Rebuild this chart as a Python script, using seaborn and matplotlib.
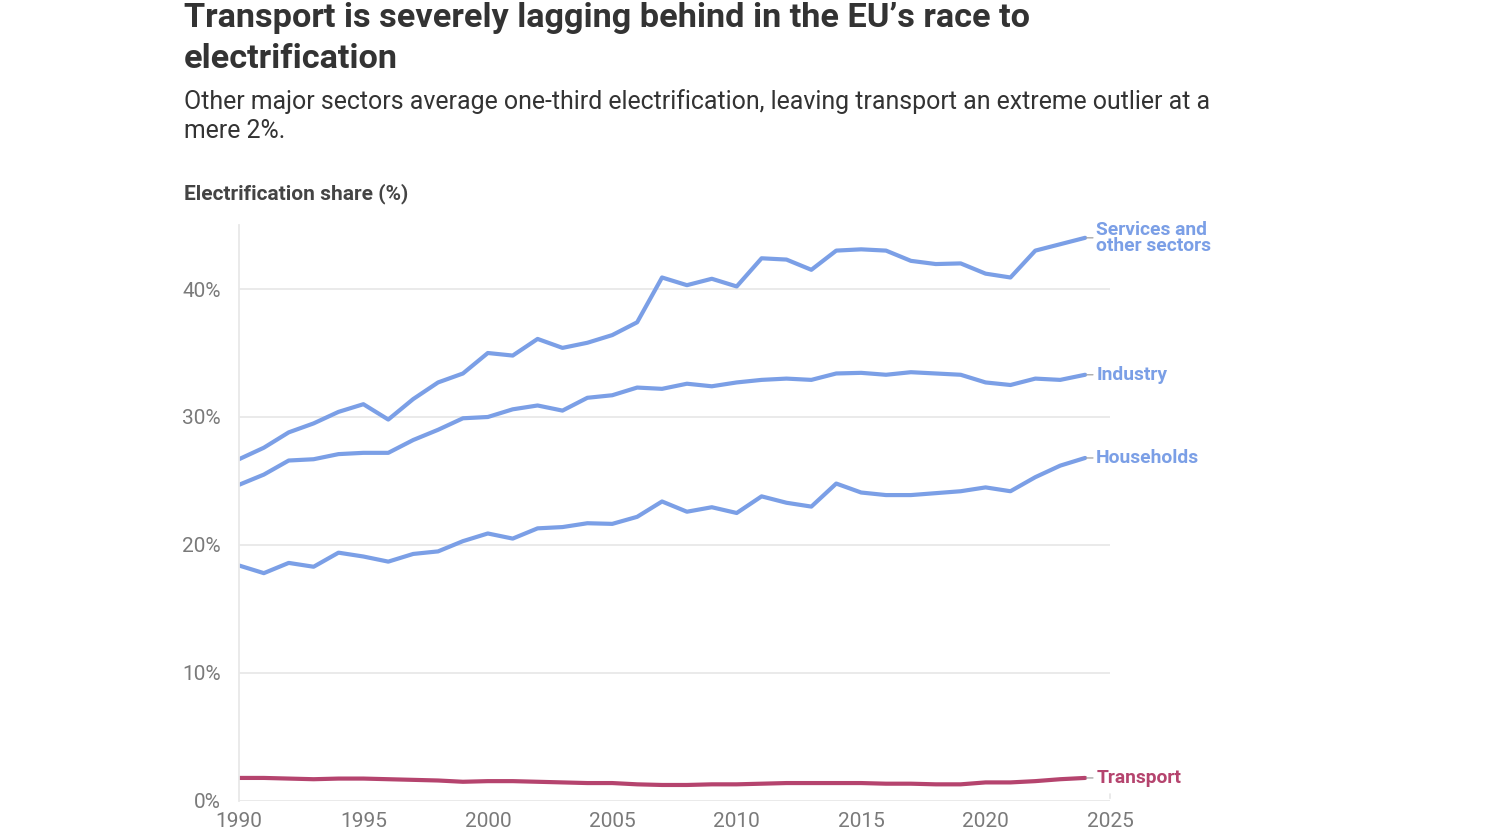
import matplotlib
matplotlib.use("Agg")
import matplotlib.pyplot as plt
import pandas as pd
import seaborn as sns

YEARS = list(range(1990, 2025))

SERVICES = [26.7, 27.6, 28.8, 29.5, 30.4, 31.0, 29.8, 31.4, 32.7, 33.4,
            35.0, 34.8, 36.1, 35.4, 35.8, 36.4, 37.4, 40.9, 40.3, 40.8,
            40.2, 42.4, 42.3, 41.5, 43.0, 43.1, 43.0, 42.2, 41.95, 42.0,
            41.2, 40.9, 43.0, 43.5, 44.0]
INDUSTRY = [24.7, 25.5, 26.6, 26.7, 27.1, 27.2, 27.2, 28.2, 29.0, 29.9,
            30.0, 30.6, 30.9, 30.5, 31.5, 31.7, 32.3, 32.2, 32.6, 32.4,
            32.7, 32.9, 33.0, 32.9, 33.4, 33.45, 33.3, 33.5, 33.4, 33.3,
            32.7, 32.5, 33.0, 32.9, 33.3]
HOUSEHOLDS = [18.4, 17.8, 18.6, 18.3, 19.4, 19.1, 18.7, 19.3, 19.5, 20.3,
              20.9, 20.5, 21.3, 21.4, 21.7, 21.65, 22.2, 23.4, 22.6, 22.95,
              22.5, 23.8, 23.3, 23.0, 24.8, 24.1, 23.9, 23.9, 24.05, 24.2,
              24.5, 24.2, 25.3, 26.2, 26.8]
TRANSPORT = [1.8, 1.8, 1.75, 1.7, 1.75, 1.75, 1.7, 1.65, 1.6, 1.5,
             1.55, 1.55, 1.5, 1.45, 1.4, 1.4, 1.3, 1.25, 1.25, 1.3,
             1.3, 1.35, 1.4, 1.4, 1.4, 1.4, 1.35, 1.35, 1.3, 1.3,
             1.45, 1.45, 1.55, 1.7, 1.8]

SERIES = {
    "Services and\nother sectors": SERVICES,
    "Industry": INDUSTRY,
    "Households": HOUSEHOLDS,
    "Transport": TRANSPORT,
}
BLUE = "#7b9fe6"
RED = "#b5446e"
COLORS = {name: (RED if name == "Transport" else BLUE) for name in SERIES}

X_TICKS = [1990, 1995, 2000, 2005, 2010, 2015, 2020, 2025]
Y_TICKS = [0, 10, 20, 30, 40]

TITLE = "Transport is severely lagging behind in the EU\u2019s race to\nelectrification"
SUBTITLE = ("Other major sectors average one-third electrification, leaving transport an extreme outlier at a\n"
            "mere 2%.")
AXIS_TITLE = "Electrification share (%)"

sns.set_style("white")
plt.rcParams["font.family"] = ["Roboto", "DejaVu Sans"]

df = pd.DataFrame(
    [(y, name, v) for name, vals in SERIES.items() for y, v in zip(YEARS, vals)],
    columns=["year", "sector", "share"],
)

fig = plt.figure(figsize=(15, 8.34), dpi=100)
ax = fig.add_axes([0.1593, 0.0396, 0.5807, 0.6906])

sns.lineplot(data=df, x="year", y="share", hue="sector", palette=COLORS,
             linewidth=3, ax=ax, legend=False, solid_capstyle="round",
             solid_joinstyle="round")

ax.set_xlim(1990, 2025)
ax.set_ylim(0, 45)
ax.set_xticks(X_TICKS)
ax.set_xticklabels([str(t) for t in X_TICKS])
ax.set_yticks(Y_TICKS)
ax.set_yticklabels([f"{t}%" for t in Y_TICKS])
ax.set_xlabel("")
ax.set_ylabel("")

grid_c = "#e8e8e8"
for t in Y_TICKS:
    ax.axhline(t, color=grid_c, lw=1.3, zorder=0)
for side in ["top", "right", "bottom"]:
    ax.spines[side].set_visible(False)
ax.spines["left"].set_color(grid_c)
ax.spines["left"].set_linewidth(1.3)

ax.tick_params(axis="y", length=9, color=grid_c, width=1.3, pad=4,
               labelsize=15, labelcolor="#7a7a7a")
ax.tick_params(axis="x", length=0, pad=8, labelsize=15, labelcolor="#7a7a7a")

# small end tick at 2025
ax.annotate("", xy=(2025, 0), xytext=(0, 7), textcoords="offset points",
            arrowprops=dict(arrowstyle="-", color=grid_c, lw=1.3))

for name, vals in SERIES.items():
    ax.annotate(name, xy=(YEARS[-1], vals[-1]), xytext=(8, 0),
                textcoords="offset points", va="center", ha="left",
                fontsize=13.9, fontweight="bold", color=COLORS[name],
                linespacing=0.9, annotation_clip=False,
                arrowprops=dict(arrowstyle="-", color="#aaaaaa", lw=1,
                                shrinkA=0, shrinkB=1))

fig.text(0.1227, 0.998, TITLE, ha="left", va="top", fontsize=24.7,
         fontweight="bold", color="#333333", linespacing=1.36)
fig.text(0.1227, 0.893, SUBTITLE, ha="left", va="top", fontsize=17.9,
         color="#333333", linespacing=1.27)
fig.text(0.1227, 0.768, AXIS_TITLE, ha="left", va="center", fontsize=15,
         fontweight="bold", color="#444444")

fig.savefig("out.png", dpi=100, facecolor="white")
